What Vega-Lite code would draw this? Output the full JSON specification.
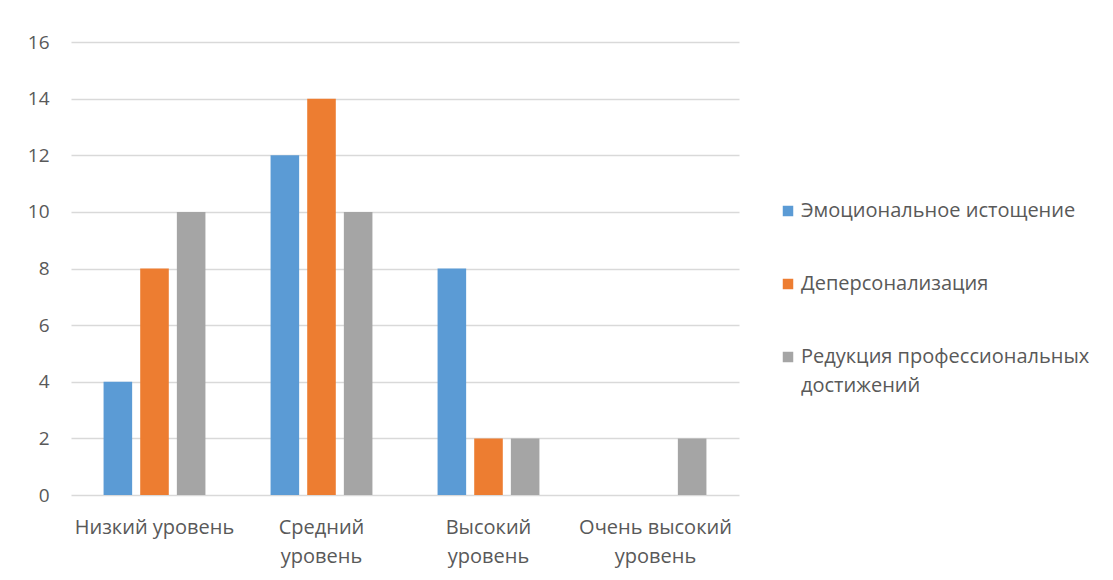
{
  "$schema": "https://vega.github.io/schema/vega-lite/v6.json",
  "autosize": {"type": "none"},
  "width": 668,
  "height": 453,
  "padding": {"left": 71, "top": 42, "right": 374, "bottom": 85},
  "background": "white",
  "config": {
    "view": {"stroke": null},
    "font": "Open Sans",
    "style": {"guide-label": {"lineHeight": 29}}
  },
  "data": {
    "values": [
      {"level": "Низкий уровень", "series": "Эмоциональное истощение", "value": 4},
      {"level": "Низкий уровень", "series": "Деперсонализация", "value": 8},
      {"level": "Низкий уровень", "series": "Редукция профессиональных достижений", "value": 10},
      {"level": "Средний уровень", "series": "Эмоциональное истощение", "value": 12},
      {"level": "Средний уровень", "series": "Деперсонализация", "value": 14},
      {"level": "Средний уровень", "series": "Редукция профессиональных достижений", "value": 10},
      {"level": "Высокий уровень", "series": "Эмоциональное истощение", "value": 8},
      {"level": "Высокий уровень", "series": "Деперсонализация", "value": 2},
      {"level": "Высокий уровень", "series": "Редукция профессиональных достижений", "value": 2},
      {"level": "Очень высокий уровень", "series": "Эмоциональное истощение", "value": 0},
      {"level": "Очень высокий уровень", "series": "Деперсонализация", "value": 0},
      {"level": "Очень высокий уровень", "series": "Редукция профессиональных достижений", "value": 2}
    ]
  },
  "mark": {"type": "bar"},
  "encoding": {
    "x": {
      "field": "level",
      "type": "nominal",
      "sort": ["Низкий уровень", "Средний уровень", "Высокий уровень", "Очень высокий уровень"],
      "scale": {"paddingInner": 0.39, "paddingOuter": 0.195},
      "axis": {
        "title": null,
        "labelAngle": 0,
        "domain": false,
        "ticks": false,
        "labelPadding": 22,
        "labelFontSize": 20,
        "labelColor": "#595959",
        "labelLineHeight": 29,
        "labelBaseline": "top",
        "labelLimit": 300,
        "labelExpr": "datum.value == 'Очень высокий уровень' ? ['Очень высокий', 'уровень'] : datum.value == 'Низкий уровень' ? datum.value : split(datum.value, ' ')"
      }
    },
    "xOffset": {
      "field": "series",
      "type": "nominal",
      "sort": ["Эмоциональное истощение", "Деперсонализация", "Редукция профессиональных достижений"],
      "scale": {"paddingInner": 0.22, "paddingOuter": 0}
    },
    "y": {
      "field": "value",
      "type": "quantitative",
      "scale": {"domain": [0, 16]},
      "axis": {
        "title": null,
        "values": [0, 2, 4, 6, 8, 10, 12, 14, 16],
        "domain": false,
        "ticks": false,
        "labelPadding": 22,
        "labelFontSize": 19,
        "labelColor": "#595959",
        "gridColor": "#d9d9d9",
        "gridWidth": 1.5
      }
    },
    "color": {
      "field": "series",
      "type": "nominal",
      "scale": {
        "domain": ["Эмоциональное истощение", "Деперсонализация", "Редукция профессиональных достижений"],
        "range": ["#5B9BD5", "#ED7D31", "#A5A5A5"]
      },
      "legend": {
        "title": null,
        "orient": "none",
        "legendX": 707,
        "legendY": 159,
        "symbolType": "square",
        "symbolSize": 110,
        "symbolStrokeWidth": 0,
        "labelFontSize": 20,
        "labelColor": "#595959",
        "labelOffset": 3,
        "labelLimit": 400,
        "rowPadding": 53,
        "labelExpr": "datum.value == 'Редукция профессиональных достижений' ? ['Редукция профессиональных', 'достижений'] : datum.value"
      }
    }
  }
}
